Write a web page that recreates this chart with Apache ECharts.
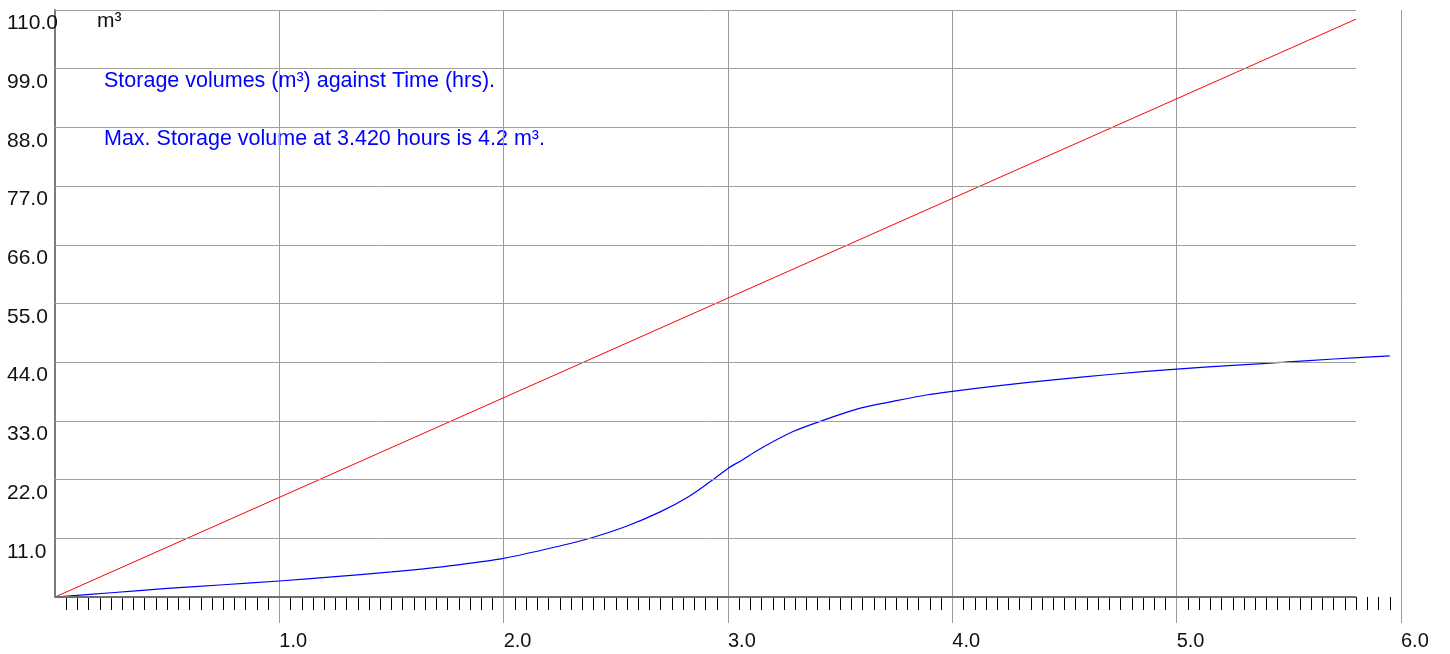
<!DOCTYPE html>
<html>
<head>
<meta charset="utf-8">
<script src="https://cdn.jsdelivr.net/npm/echarts@6/dist/echarts.min.js"></script>
<style>
  html, body { margin: 0; padding: 0; background: #fff; }
  #chart { width: 1450px; height: 654px; }
</style>
</head>
<body>
<div id="chart"></div>
<script>
// Storage volume (blue) against time, hours
const storageTime = [0, 0.25, 0.5, 0.75, 1.0, 1.25, 1.5, 1.75, 2.0, 2.25, 2.4, 2.55, 2.7, 2.82, 2.92, 3.0, 3.06, 3.14, 3.29, 3.43, 3.59, 3.74, 3.89, 4.0, 4.21, 4.45, 4.7, 5.0, 5.25, 5.48, 5.7, 5.95];
const storageVolume = [0, 0.8, 1.6, 2.3, 3.0, 3.8, 4.7, 5.8, 7.25, 9.56, 11.2, 13.3, 16.0, 18.7, 21.6, 24.1, 25.6, 27.7, 31.0, 33.2, 35.4, 36.7, 37.9, 38.55, 39.6, 40.7, 41.7, 42.7, 43.4, 44.0, 44.6, 45.2];

// Inflow volume (red), straight line
const inflowTime = [0, 5.8];
const inflowVolume = [0, 108.3];

// Axis ticks
const timeTicks = [1, 2, 3, 4, 5, 6];
const volumeTicks = [11, 22, 33, 44, 55, 66, 77, 88, 99, 110];
const gridEndTime = 5.8;

const unitLabel = 'm³';
const titleLine = 'Storage volumes (m³) against Time (hrs).';
const maxLine = 'Max. Storage volume at 3.420 hours is 4.2 m³.';

const FONT = '"Liberation Sans", Arial, sans-serif';

const pairs = (xs, ys) => xs.map((x, i) => [x, ys[i]]);

// horizontal grid lines + base line, stopping at gridEndTime
const hLines = volumeTicks.map(v => [{ coord: [0, v] }, { coord: [gridEndTime, v] }]);

const chart = echarts.init(document.getElementById('chart'), null, { renderer: 'canvas' });
chart.setOption({
  animation: false,
  backgroundColor: '#ffffff',
  grid: { left: 55, right: 49, top: 10, bottom: 57, containLabel: false },
  xAxis: [{
    type: 'value',
    min: 0, max: 6, interval: 1,
    axisLine: { show: false },
    axisTick: { show: true, customValues: timeTicks, length: 26, lineStyle: { color: '#9a9a9a', width: 1 } },
    minorTick: { show: true, splitNumber: 20, length: 13, lineStyle: { color: '#000', width: 1 } },
    splitLine: { show: true, lineStyle: { color: '#9a9a9a', width: 1 } },
    minorSplitLine: { show: false },
    axisLabel: {
      customValues: timeTicks,
      formatter: v => v.toFixed(1),
      align: 'left', verticalAlign: 'top', margin: 34,
      color: '#111', fontSize: 20, fontFamily: FONT
    }
  }],
  yAxis: [{
    type: 'value',
    min: 0, max: 110, interval: 11,
    axisLine: { show: true, lineStyle: { color: '#7a7a7a', width: 2 } },
    axisTick: { show: false },
    splitLine: { show: false },
    axisLabel: {
      formatter: v => v === 0 ? '' : v.toFixed(1),
      align: 'left', verticalAlign: 'top', margin: 48,
      padding: [3, 0, 0, 0],
      color: '#111', fontSize: 21, fontFamily: FONT
    }
  }],
  series: [
    {
      type: 'line',
      data: pairs(inflowTime, inflowVolume),
      showSymbol: false,
      lineStyle: { color: '#ff0000', width: 1 },
      silent: true,
      z: 3,
      markLine: {
        silent: true,
        symbol: 'none',
        label: { show: false },
        lineStyle: { color: '#a0a0a0', width: 1, type: 'solid' },
        data: hLines.concat([[
          { coord: [0, 0], lineStyle: { color: '#6e6e6e', width: 2 } },
          { coord: [gridEndTime, 0] }
        ]])
      }
    },
    {
      type: 'line',
      data: pairs(storageTime, storageVolume),
      showSymbol: false,
      smooth: 0.3,
      lineStyle: { color: '#0000ff', width: 1.2 },
      silent: true,
      z: 4
    }
  ],
  graphic: [
    { type: 'text', left: 97, top: 11, style: { text: unitLabel, fill: '#111', font: '21px ' + FONT } },
    { type: 'text', left: 104, top: 70, style: { text: titleLine, fill: '#0000ff', font: '21.5px ' + FONT } },
    { type: 'text', left: 104, top: 128, style: { text: maxLine, fill: '#0000ff', font: '21.5px ' + FONT } }
  ]
});
</script>
</body>
</html>
